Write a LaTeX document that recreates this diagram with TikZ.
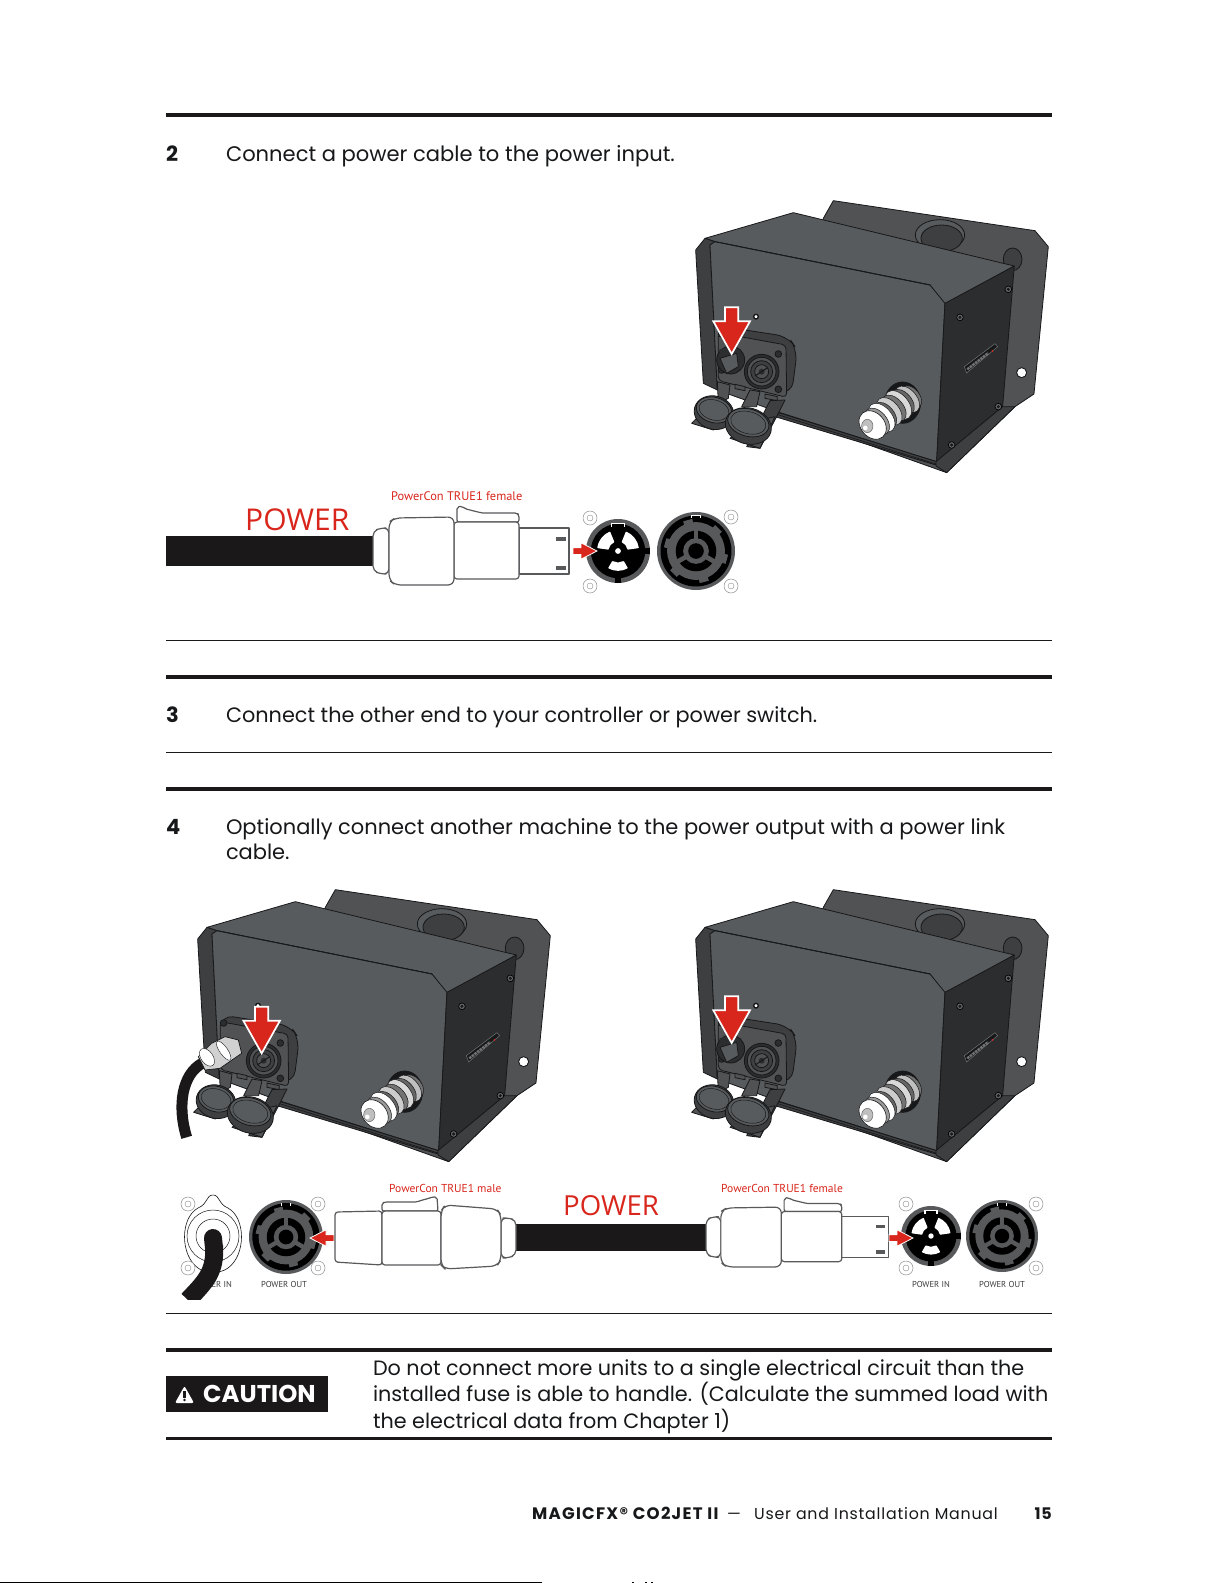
\documentclass[tikz,border=0pt]{standalone}
\usepackage{fontspec}
\setmainfont{Poppins}
\newfontfamily\lab{PT Sans}
\newfontfamily\bigfnt{Open Sans}
\definecolor{rd}{HTML}{D9261C}
\definecolor{face}{HTML}{585B5D}
\definecolor{rear}{HTML}{505254}
\definecolor{flange}{HTML}{3D3F41}
\definecolor{side}{HTML}{2C2D2F}
\definecolor{ink}{HTML}{17181A}
\definecolor{ring}{HTML}{58595B}
\definecolor{cab}{HTML}{1A1818}
\newcommand\sz[1]{\fontsize{#1}{24}\selectfont}
\tikzset{
 txt/.style={anchor=base west,inner sep=0pt,outer sep=0pt,text=ink},
 num/.style={anchor=base west,inner sep=0pt,font=\sz{21}\bfseries,text=ink},
 redlab/.style={anchor=base west,inner sep=0pt,text=rd,font=\lab\fontsize{12.4}{14}\selectfont},
 powerlab/.style={anchor=base west,inner sep=0pt,text=rd},
 graylab/.style={anchor=base,inner sep=0pt,text=ink!85,font=\lab\fontsize{8.6}{10}\selectfont},
 thick rule/.style={line width=3.6pt,draw=cab},
 thin rule/.style={line width=0.9pt,draw=cab},
 ml/.style={draw=ink,line width=0.8pt,line join=round},
 plug/.style={draw=ring,line width=1.2pt,fill=white,line join=round},
 screw/.style={draw=black!45,line width=0.5pt,fill=white},
 redarr/.style={fill=rd,draw=white,line width=0.8pt,line join=miter},
 bigarr/.style={fill=rd,draw=white,line width=1.7pt,line join=miter},
}
% ---------- machine, in zoomed local units
\newcommand\bigarrowat[2]{\filldraw[bigarr] (#1-20,#2)--(#1+20,#2)--(#1+20,#2+42)--(#1+55,#2+42)--(#1,#2+140)--(#1-55,#2+42)--(#1-20,#2+42)--cycle;}
\newcommand\mscrew[2]{\filldraw[draw=black,line width=.7pt,fill=black!60] (#1,#2) circle (10);\fill[ink] (#1,#2) circle (5);}
\newcommand\machinebase{%
 \filldraw[ml,fill=rear] (430,85)--(460,32)--(1065,122)--(1105,170)--(1062,612)--(1005,650)--(800,848)--(300,670)--cycle;
 \filldraw[ml,fill=flange] (998,208) ellipse (28 and 34);
 \filldraw[ml,fill=face] (780,135) ellipse (74 and 46);
 \filldraw[ml,fill=flange] (785,145) ellipse (62 and 40);
 \filldraw[ml,fill=face] (75,145)--(340,68)--(1003,228)--(795,345)--(750,285)--(105,155)--cycle;
 \filldraw[ml,fill=flange] (47,180)--(75,145)--(105,155)--(90,165)--(112,600)--(70,580)--cycle;
 \filldraw[ml,fill=face] (90,165)--(105,155)--(750,285)--(795,340)--(770,815)--(300,668)--(112,600)--cycle;
 \filldraw[ml,fill=flange] (270,660)--(770,815)--(768,825)--(285,680)--cycle;
 \filldraw[ml,fill=side] (795,340)--(1003,228)--(968,650)--(770,815)--cycle;
 \filldraw[ml,fill=flange] (768,815)--(968,650)--(1005,650)--(800,848)--(768,828)--cycle;
 \draw[ink,line width=.6pt] (280,670)--(768,822);
 \draw[ink,line width=.8pt] (105,155)--(750,285);
 \mscrew{840}{382}\mscrew{985}{298}\mscrew{955}{650}\mscrew{815}{765}
 \fill[white] (1025,548) circle (14);
 \draw[ink,line width=.8pt] (1025,548) circle (15);
 \filldraw[draw=black!55,line width=.5pt,fill=ink] (853,530)--(945,461)--(953,470)--(860,549)--cycle;
 \draw[line width=2.4pt,black!55,dash pattern=on 2.5pt off .8pt] (862,538)--(925,489);
 \fill[rd] (937,483) circle (3);
 % coupling
 \filldraw[ml,fill=ink] (668,638) ellipse (54 and 62);
 \foreach \x/\y/\r/\c in {695/620/38/black!55,682/628/46/black!25,668/636/44/black!60,655/645/50/black!15,642/655/46/black!55,628/664/48/black!20,615/675/44/black!60,605/683/50/white,592/694/46/black!40}
  {\filldraw[draw=ink,line width=.5pt,fill=\c,rotate around={40:(\x,\y)}] (\x,\y) ellipse (\r*.62 and \r);}
 \filldraw[draw=ink,line width=.6pt,fill=white,rotate around={40:(578,705)}] (578,705) ellipse (36 and 47);
 \filldraw[draw=black!60,line width=.5pt,fill=black!25] (562,708) ellipse (17 and 20);
 \fill[white] (556,714) circle (7);
 % panel
 \filldraw[ml,fill=flange,rounded corners=12pt] (118,408)--(325,440)--(352,480)--(335,612)--(115,575)--cycle;
 \filldraw[ml,fill=rear,rounded corners=4pt] (115,428)--(318,465)--(320,622)--(115,572)--cycle;
 % tabs and straps
 \filldraw[ml,fill=rear] (165,583)--(195,590)--(195,602)--(165,596)--cycle;
 \filldraw[ml,fill=rear] (255,612)--(292,620)--(292,632)--(255,625)--cycle;
 \filldraw[ml,fill=rear] (112,575)--(150,585)--(145,625)--(115,640)--cycle;
 \filldraw[ml,fill=rear] (210,600)--(240,605)--(230,650)--(185,650)--cycle;
 \filldraw[ml,fill=flange] (270,632)--(315,630)--(290,680)--(240,775)--(200,770)--cycle;
 % cap 1
 \filldraw[ml,fill=rear] (35,700)--(62,672)--(130,700)--(100,720)--cycle;
 \filldraw[ml,fill=flange,rotate around={-15:(102,668)}] (102,668) ellipse (60 and 50);
 \filldraw[ml,fill=face,rotate around={-15:(102,660)}] (102,660) ellipse (54 and 38);
 \draw[ink,line width=.5pt,rotate around={-15:(102,660)}] (102,660) ellipse (46 and 30);
 % cap 2
 \filldraw[ml,fill=rear] (150,745)--(240,775)--(285,680)--(200,700)--cycle;
 \filldraw[ml,fill=flange,rotate around={-15:(205,708)}] (205,708) ellipse (70 and 54);
 \filldraw[ml,fill=face,rotate around={-15:(205,698)}] (205,698) ellipse (63 and 41);
 \draw[ink,line width=.5pt,rotate around={-15:(205,698)}] (205,698) ellipse (54 and 33);
 \foreach \x/\y in {295/492,295/598,125/540,125/432}{\filldraw[ml,fill=side] (\x,\y) circle (10);}
}
\newcommand\rightsocket[2]{%
 \filldraw[ml,fill=side] (#1,#2) circle (52);
 \filldraw[ml,fill=rear] (#1,#2) circle (43);
 \filldraw[ml,fill=flange] (#1,#2) circle (33);
 \filldraw[ml,fill=rear] (#1,#2) circle (21);
 \fill[side] (#1,#2) circle (9);
 \draw[ink,line width=1pt] (#1-18,#2+12)--(#1+18,#2-12);
}
\newcommand\emptyhole{%
 \filldraw[ml,fill=side] (152,510) circle (42);
 \filldraw[ml,fill=face] (120,505)--(170,490)--(175,530)--(140,550)--cycle;
 \fill[side] (118,478)--(155,470)--(165,490)--(120,500)--cycle;
}
\newcommand\powerdot{\filldraw[fill=white,draw=ink,line width=1.4pt] (228,380) circle (7);}
\newcommand\machineA{\machinebase\powerdot\emptyhole\rightsocket{245}{545}\bigarrowat{155}{352}}
\newcommand\machineB{\machinebase\powerdot\rightsocket{245}{545}%
 % plugged cable
 \draw[cab,line width=11pt,line cap=butt] (62,552) .. controls (0,585) and (-15,680) .. (14,775);
 \filldraw[draw=ink,line width=.7pt,fill=black!18] (169,483)--(179,523)--(114,568)--(69,573)--(49,533)--(89,493)--(129,473)--cycle;
 \filldraw[draw=ink,line width=.4pt,fill=white,rotate around={35:(75,535)}] (75,535) ellipse (18 and 30);
 \filldraw[draw=ink,line width=.4pt,fill=white,rotate around={35:(125,515)}] (125,515) ellipse (12 and 34);
 \bigarrowat{239}{383}}
% ---------- sockets
\newcommand\pwin[4]{% a1 a2 r1 r2
 \fill[white,rounded corners=.6pt]
  ({-(#1)}:#3)--({-(#1)}:#4)--({-((#1)*.75+(#2)*.25)}:#4)--({-((#1)*.5+(#2)*.5)}:#4)--({-((#1)*.25+(#2)*.75)}:#4)--({-(#2)}:#4)--({-(#2)}:#3)--({-((#1)*.5+(#2)*.5)}:#3)--cycle;}
\newcommand\sockA[3]{\begin{scope}[shift={(#1,#2)},x=#3pt,y=-#3pt]
 \fill[ring] (0,0) circle (1);
 \fill[black] (0,0) circle (.85);
 \fill[black] (-1,-.1) rectangle (-.8,.1);\fill[black] (1,-.1) rectangle (.8,.1);\fill[black] (-.09,.8) rectangle (.09,1);
 \fill[white] (-.22,-.86) rectangle (.22,-.74);\fill[black] (-.18,-.84) rectangle (.18,-.72);
 \pwin{112}{172}{.3}{.66}
 \pwin{8}{68}{.3}{.66}
 \pwin{240}{300}{.36}{.62}
 \fill[white] (0,0) circle (.09);
\end{scope}}
\newcommand\sockB[3]{\begin{scope}[shift={(#1,#2)},x=#3pt,y=-#3pt]
 \fill[ring] (0,0) circle (1);
 \fill[black] (0,0) circle (.91);
 \fill[white] (-.14,-.93) rectangle (.14,-.84);\fill[black] (-.1,-.91) rectangle (.1,-.82);
 \fill[ring] (0,0) circle (.74);\fill[black] (0,0) circle (.52);
 \foreach \a in {0,60,...,300}{\fill[ring,rotate=\a+15] (-.12,-.82) rectangle (.12,-.68);}
 \foreach \a in {270,30,150}{\draw[ring,line width=#3*.12pt] (0,0)--(\a:.6);}
 \fill[ring] (0,0) circle (.33);\fill[black] (0,0) circle (.2);
\end{scope}}
\newcommand\smallarrow[3]{\begin{scope}[shift={(#1,#2)},xscale=#3]
 \filldraw[redarr] (0,-3.4)--(8,-3.4)--(8,-8.2)--(24,0)--(8,8.2)--(8,3.4)--(0,3.4)--cycle;
\end{scope}}
\newcommand\screwring[2]{\filldraw[screw] (#1,#2) circle (7);\draw[black!45,line width=.4pt] (#1,#2) circle (3);}
\newcommand\femaleplug[4]{% x of cable end, centre y, xscale, yscale
 \begin{scope}[shift={(#1,#2)},xscale=#3,yscale=#4]
 \filldraw[plug,rounded corners=5pt] (0,-20)--(8,-23)--(16,-23)--(16,23)--(8,23)--(0,20)--cycle;
 \filldraw[plug] (146,-23)--(196,-23)--(196,23)--(146,23)--cycle;
 \filldraw[plug,rounded corners=2pt] (84,-29)--(84,-44)--(89,-45) -- (92,-42)--(96,-41.5)--(100,-40)--(104,-39.5)--(108,-38)--(144,-38)--(146,-36)--(146,-29)--cycle;
 \filldraw[plug,rounded corners=3pt] (81,-29)--(146,-29)--(146,28)--(81,28)--cycle;
 \filldraw[plug,rounded corners=6pt] (16,-29)--(22,-33)--(81,-34)--(81,34)--(22,34)--(16,29)--cycle;
 \fill[ring] (183,-14) rectangle (193,-10);\fill[ring] (183,15) rectangle (193,19);
 \end{scope}}
\begin{document}
\begin{tikzpicture}[x=1pt,y=-1pt]
\useasboundingbox[fill=white] (0,0) rectangle (1220,1583);
% rules
\foreach \y in {115,677,789,1350}{\draw[thick rule] (166,\y)--(1052,\y);}
\foreach \y in {640.5,752.3,1313.5}{\draw[thin rule] (166,\y)--(1052,\y);}
\draw[cab,line width=2.2pt] (166,1438.5)--(1052,1438.5);
\draw[black,line width=1.5pt] (0,1582.4)--(542,1582.4);
\fill[black] (632,1581.5) rectangle (634,1583);\fill[black] (645,1581.5) rectangle (647,1583);\fill[black] (651,1581.5) rectangle (653,1583);
% steps
\node[num] (n2) at (166,161) {2};
\node[txt,font=\sz{21.06}] (t2) at (226,161) {Connect a power cable to the power input.};
\node[num] (n3) at (166,722) {3};
\node[txt,font=\sz{20.82}] (t3) at (226,722) {Connect the other end to your controller or power switch.};
\node[num] (n4) at (166,834) {4};
\node[txt,font=\sz{20.97}] (t4a) at (226,834) {Optionally connect another machine to the power output with a power link};
\node[txt,font=\sz{20.97}] (t4b) at (226,859) {cable.};
% machines
\begin{scope}[shift={(680,190)},x=.3333pt,y=-.3333pt]\machineA\end{scope}
\begin{scope}[shift={(680,879)},x=.3333pt,y=-.3333pt]\machineA\end{scope}
\begin{scope}[shift={(182,879)},x=.3333pt,y=-.3333pt]\machineB\end{scope}
% --- step 2 connector
\fill[cab] (166,536) rectangle (376,566);
\node[powerlab,font=\bigfnt\fontsize{30}{32}\selectfont] (pw1) at (245,530) {POWER};
\node[redlab] (lb1) at (391,500) {PowerCon TRUE1 female};
\femaleplug{373}{551}{1}{1}
\screwring{590}{518}\screwring{590}{586}\screwring{731}{517}\screwring{731}{586}
\sockA{618}{551}{32}
\sockB{696}{551}{39}
\smallarrow{573}{551}{1}
% --- step 4 connector strip
\node[graylab] (pi1) at (213,1287) {POWER IN};
\node[graylab] (po1) at (284,1287) {POWER OUT};
\node[graylab] (pi2) at (931,1287) {POWER IN};
\node[graylab] (po2) at (1002,1287) {POWER OUT};
\draw[ink,line width=.6pt] (213,1195) .. controls (206,1195) and (208,1204) .. (198,1208) .. controls (180,1218) and (180,1255) .. (198,1268) .. controls (205,1274) and (220,1274) .. (228,1268) .. controls (246,1255) and (246,1218) .. (228,1208) .. controls (218,1204) and (220,1195) .. (213,1195) -- cycle;
\draw[ink,line width=.5pt] (213,1236) circle (26);
\draw[ink,line width=.5pt] (213,1236) circle (17);
\screwring{188}{1204}\screwring{188}{1268}\screwring{318}{1204}\screwring{318}{1268}
\draw[cab,line width=18pt,line cap=round] (213,1238)--(214,1248);
\draw[cab,line width=18pt] (214,1245) .. controls (216,1272) and (205,1282) .. (188,1300);
\fill[white] (170,1300) rectangle (225,1310);
\sockB{286}{1237}{37}
\begin{scope}[shift={(334,1238)},xscale=-1]\filldraw[redarr] (0,-3.4)--(8,-3.4)--(8,-8.2)--(24,0)--(8,8.2)--(8,3.4)--(0,3.4)--cycle;\end{scope}
% male plug
\fill[cab] (514,1224) rectangle (708,1251);
\filldraw[plug,rounded corners=5pt] (516,1220)--(508,1218)--(501,1218)--(501,1258)--(508,1258)--(516,1255)--cycle;
\filldraw[plug,rounded corners=3pt] (335,1212)--(382,1211)--(382,1265)--(335,1262)--cycle;
\filldraw[plug,rounded corners=2pt] (382,1211)--(382,1203)--(385,1202)--(417,1202)--(422,1200)--(427,1199)--(432,1197)--(437,1197)--(438,1211)--cycle;
\filldraw[plug,rounded corners=3pt] (382,1211)--(441,1211)--(441,1265)--(382,1265)--cycle;
\filldraw[plug,rounded corners=6pt] (441,1211)--(445,1205)--(497,1209)--(501,1215)--(501,1260)--(497,1266)--(445,1269)--(441,1265)--cycle;
\femaleplug{706}{1237}{.93}{.88}
\screwring{906}{1204}\screwring{906}{1268}\screwring{1036}{1204}\screwring{1036}{1268}
\sockA{931}{1236}{30}
\sockB{1002}{1236}{36}
\smallarrow{889}{1238}{1}
\node[redlab,font=\lab\fontsize{11.5}{14}\selectfont] (lb2) at (389,1192) {PowerCon TRUE1 male};
\node[redlab,font=\lab\fontsize{11.5}{14}\selectfont] (lb3) at (721,1192) {PowerCon TRUE1 female};
\node[powerlab,font=\bigfnt\fontsize{27.6}{30}\selectfont] (pw2) at (563,1215) {POWER};
% caution
\fill[cab] (166,1375.5) rectangle (328,1412);
\fill[white,rounded corners=2pt] (184.5,1386)--(194,1403)--(175,1403)--cycle;
\fill[cab] (183.4,1391) rectangle (185.6,1397.5);\fill[cab] (184.5,1400) circle (1.3);
\node[anchor=base west,inner sep=0pt,text=white,font=\fontsize{24.3}{26}\selectfont\bfseries] (ca) at (203,1402) {CAUTION};
\node[txt,font=\sz{20.75}] (c1) at (373,1375) {Do not connect more units to a single electrical circuit than the};
\node[txt,font=\sz{20.75}] (c2) at (373,1401) {installed fuse is able to handle. (Calculate the summed load with};
\node[txt,font=\sz{20.75}] (c3) at (373,1428) {the electrical data from Chapter 1)};
% footer
\node[anchor=base west,inner sep=0pt,text=ink,font=\fontsize{16.6}{17}\selectfont\bfseries\addfontfeature{LetterSpace=7.5}] (f0) at (532,1519.5) {MAGICFX® CO2JET II};
\node[anchor=base west,inner sep=0pt,text=ink,font=\fontsize{15.6}{17}\selectfont] (fd) at (727,1519.5) {—};
\node[anchor=base east,inner sep=0pt,text=ink,font=\fontsize{15.8}{17}\selectfont\addfontfeature{LetterSpace=5}] (f1) at (998,1519.5) {User and Installation Manual};
\node[anchor=base east,inner sep=0pt,text=ink,font=\fontsize{16}{17}\selectfont\bfseries\addfontfeature{LetterSpace=5}] (f2) at (1052,1519.5) {15};
\end{tikzpicture}
\end{document}
